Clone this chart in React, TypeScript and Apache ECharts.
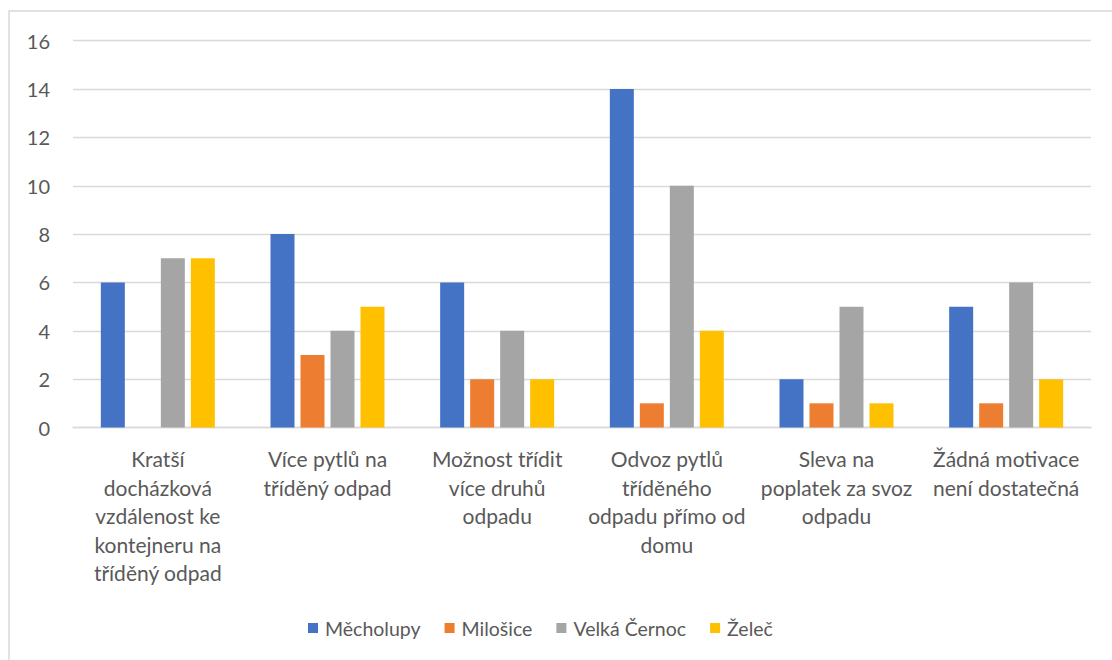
import React, { useEffect, useRef } from "react";
import * as echarts from "echarts";

const categories = [
  "Kratší\ndocházková\nvzdálenost ke\nkontejneru na\ntříděný odpad",
  "Více pytlů na\ntříděný odpad",
  "Možnost třídit\nvíce druhů\nodpadu",
  "Odvoz pytlů\ntříděného\nodpadu přímo od\ndomu",
  "Sleva na\npoplatek za svoz\nodpadu",
  "Žádná motivace\nnení dostatečná",
];
const seriesNames = ["Měcholupy", "Milošice", "Velká Černoc", "Želeč"];
const mecholupy = [6, 8, 6, 14, 2, 5];
const milosice = [0, 3, 2, 1, 1, 1];
const velkaCernoc = [7, 4, 4, 10, 5, 6];
const zelec = [7, 5, 2, 4, 1, 2];
const colors = ["#4472C4", "#ED7D31", "#A5A5A5", "#FFC000"];

const FONT = "Lato";
const TXT = "#595959";

export default function App() {
  const ref = useRef<HTMLDivElement>(null);
  useEffect(() => {
    if (!ref.current) return;
    const chart = echarts.init(ref.current, undefined, { renderer: "svg" });
    const data = [mecholupy, milosice, velkaCernoc, zelec];
    chart.setOption({
      animation: false,
      backgroundColor: "#ffffff",
      textStyle: { fontFamily: FONT, color: TXT },
      graphic: [
        {
          type: "rect",
          shape: { x: 9, y: 11, width: 1200, height: 800 },
          style: { fill: "none", stroke: "#d9d9d9", lineWidth: 1.5 },
          silent: true,
        },
      ],
      grid: { left: 73, right: 21, top: 40.7, bottom: 232.5, containLabel: false },
      legend: {
        left: 303,
        top: 613,
        itemWidth: 10,
        itemHeight: 10,
        itemGap: 24,
        icon: "rect",
        textStyle: { fontFamily: FONT, fontSize: 19.5, color: TXT, padding: [0, 0, 0, 2] },
        data: seriesNames,
      },
      xAxis: {
        type: "category",
        data: categories,
        axisLine: { lineStyle: { color: "#d9d9d9", width: 1.3 } },
        axisTick: { show: false },
        axisLabel: {
          interval: 0,
          fontFamily: FONT,
          fontSize: 21,
          color: TXT,
          lineHeight: 28.5,
          margin: 17,
          verticalAlign: "top",
        },
      },
      yAxis: {
        type: "value",
        min: 0,
        max: 16,
        interval: 2,
        axisLine: { show: false },
        axisTick: { show: false },
        splitLine: { lineStyle: { color: "#d9d9d9", width: 1.3 } },
        axisLabel: { fontFamily: FONT, fontSize: 20, color: TXT, margin: 23 },
      },
      series: seriesNames.map((name, i) => ({
        name,
        type: "bar",
        data: data[i],
        barWidth: 24,
        barGap: "25%",
        itemStyle: { color: colors[i] },
      })),
    });
    return () => chart.dispose();
  }, []);
  return (
    <div
      ref={ref}
      style={{ position: "fixed", left: 0, top: 0, width: 1112, height: 660 }}
    />
  );
}
